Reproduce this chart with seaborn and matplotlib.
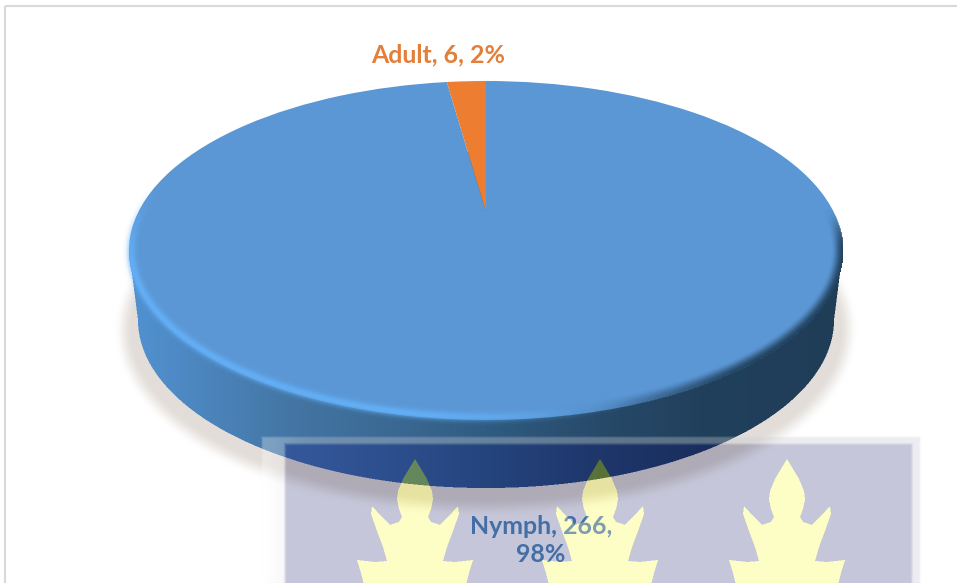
import numpy as np
import matplotlib
matplotlib.use("Agg")
import matplotlib.pyplot as plt
from matplotlib.path import Path
from matplotlib.patches import Rectangle, PathPatch
from matplotlib.transforms import Transform
import seaborn as sns

categories = ["Nymph", "Adult"]
counts = [266, 6]
percent_labels = ["98%", "2%"]
slice_colors = ["#5b97d5", "#ed7d31"]
text_colors = ["#436fa6", "#e27f3a"]

sns.set_theme(style="white")
plt.rcParams["font.family"] = ["Lato", "DejaVu Sans"]
W, H = 957, 583

# projected disc geometry (pixels)
CX, TOP_CY, TOP_RX, TOP_RY = 486.0, 250.0, 357.0, 169.5
BOT_CY, BOT_RX, BOT_RY = 320.0, 348.0, 168.0
P_A, P_B, P_C = -112.6, 212.0, 0.227
P_U = TOP_RX * np.sqrt(1 - P_C ** 2)


class DiscProjection(Transform):
    input_dims = output_dims = 2
    is_separable = False
    has_inverse = False

    def transform_non_affine(self, values):
        values = np.asarray(values, float)
        u, v = values[:, 0], values[:, 1]
        d = P_C * v + 1
        return np.column_stack([CX + P_U * u / d, (P_A * v + P_B) / d])


def smooth(x, a, b):
    t = np.clip((x - a) / (b - a), 0, 1)
    return t * t * (3 - 2 * t)


def ell(x, y, cx, cy, rx, ry):
    return np.sqrt(((x - cx) / rx) ** 2 + ((y - cy) / ry) ** 2)


def edge_dist(x, y, cx, cy, rx, ry):
    dx, dy = x - cx, y - cy
    f = np.maximum(ell(x, y, cx, cy, rx, ry), 1e-6)
    g = np.maximum(np.sqrt((dx / rx ** 2) ** 2 + (dy / ry ** 2) ** 2) / f, 1e-6)
    return (1 - f) / g


FLAME_HALF = [(0, 0), (6, 10), (12, 20), (17, 32), (18, 40), (16, 50), (13, 58), (16, 63),
              (25, 66), (33, 58), (43, 47), (44, 55), (38, 72), (32, 88), (28, 102),
              (40, 103), (58, 101), (54, 114), (50, 130)]
FLAME_X = [415, 600, 787]
FLAME_TOP = 459


def flame_path(cx):
    right = [(cx + a, FLAME_TOP + b) for a, b in FLAME_HALF]
    left = [(cx - a, FLAME_TOP + b) for a, b in FLAME_HALF[::-1]]
    return Path(right + left[:-1] + [right[0]], closed=True)


flames = [flame_path(c) for c in FLAME_X]

# ---- raster backdrop: shadow, side wall, watermark (supersampled) ----
SS = 2
gx, gy = np.meshgrid((np.arange(W * SS) + .5) / SS, (np.arange(H * SS) + .5) / SS)
img = np.ones(gx.shape + (3,)) * 255.0

sd = edge_dist(gx, gy, CX, 330, 356, 171)
sa = smooth(sd, -16, 3)
for i, c in enumerate((226, 221, 216)):
    img[..., i] = img[..., i] * (1 - sa) + c * sa

in_top = (ell(gx, gy, CX, TOP_CY, TOP_RX, TOP_RY) <= 1) & (gy >= TOP_CY)
in_bot = ell(gx, gy, CX, BOT_CY, BOT_RX, BOT_RY) <= 1
t = (gy - TOP_CY) / (BOT_CY - TOP_CY)
half = TOP_RX + (BOT_RX - TOP_RX) * t
in_mid = (t >= 0) & (t <= 1) & (np.abs(gx - CX) <= half)
wall = in_top | in_bot | in_mid
stops_x = [129, 200, 300, 400, 486, 600, 700, 843]
stops_rgb = np.array([[82, 146, 210], [76, 134, 190], [67, 116, 162], [58, 104, 146],
                      [47, 92, 130], [39, 74, 106], [33, 64, 92], [32, 61, 88]], float)
for i in range(3):
    img[..., i][wall] = np.interp(gx[wall], stops_x, stops_rgb[:, i])

# watermark
BX0, BX1, BY0 = 262.0, 920.0, 437.0
IX0, IX1, IY0 = 285.0, 912.0, 444.0
ring = smooth(np.minimum(np.minimum(gx - BX0, BX1 - gx), gy - BY0), -1.5, 1.5)
inner = np.minimum(np.minimum(smooth(gx, IX0 - 2, IX0 + 2), smooth(-gx, -IX1 - 2, -IX1 + 2)),
                   smooth(gy, IY0 - 2, IY0 + 2))
pts = np.column_stack([gx.ravel(), gy.ravel()])
fmask = np.zeros(gx.size, bool)
near = pts[:, 1] > FLAME_TOP - 2
for fl in flames:
    fmask[near] |= fl.contains_points(pts[near])
fmask = fmask.reshape(gx.shape)
band_col = np.array([235, 235, 240.])
band_mul = np.array([.93, .93, .95])
in_mul = np.array([197, 198, 217.]) / 255
wall_tint = np.array([0., -3., 16.])
fl_scale = np.array([.76, .77, .944])
fl_white = np.array([253, 253, 198.])
fade = smooth(gx, BX0, IX0 + 30)  # the band whitens toward the left
for i in range(3):
    bg = img[..., i]
    col = 255 + (band_col[i] - 255) * fade
    mul = 1 + (band_mul[i] - 1) * fade
    b = bg * mul * .7 + col * .3
    n = bg * in_mul[i] + wall * wall_tint[i]
    f = fl_white[i] - (255 - bg) * fl_scale[i]
    n = np.where(fmask, f, n)
    img[..., i] = (bg * (1 - ring) + b * ring) * (1 - inner) + n * inner
img = np.clip(img, 0, 255).reshape(H, SS, W, SS, 3).mean(axis=(1, 3))

# ---- bevel overlay for the top surface ----
px, py = np.meshgrid(np.arange(W) + .5, np.arange(H) + .5)
d = edge_dist(px, py, CX, TOP_CY, TOP_RX, TOP_RY)
phi = np.degrees(np.arctan2((py - TOP_CY) / TOP_RY, (px - CX) / TOP_RX)) % 360
light = smooth(phi, 60, 105) * (1 - smooth(phi, 172, 205))
dark = ((1 - smooth(phi, 40, 85)) * (phi < 120) + smooth(phi, 345, 360))
dark = np.clip(dark, 0, 1)
la = np.exp(-((d - 2.5) / 4.5) ** 2) * light * .85
da = (1 - smooth(d, 0, 12)) * dark * .95 * (d >= -.5)
col_l = np.array([100, 178, 250.]) / 255
col_d = np.array([33, 64, 92.]) / 255
mix = (da / np.maximum(la + da, 1e-6))[..., None]
ov = np.zeros((H, W, 4))
ov[..., :3] = col_d * mix + col_l * (1 - mix)
ov[..., 3] = np.maximum(la, da)

# ---- figure ----
fig = plt.figure(figsize=(W / 100, H / 100), dpi=100, facecolor="white")
ax = fig.add_axes([0, 0, 1, 1])
palette = sns.color_palette(slice_colors)
wedges, _ = ax.pie(counts, colors=palette, startangle=90, counterclock=False,
                   wedgeprops=dict(linewidth=0))
proj = DiscProjection()
ax.set_aspect("auto")
ax.set_axis_off()
for w in wedges:
    w.set_transform(proj + ax.transData)
    w.set_zorder(3)

ax.imshow(img.astype(np.uint8), extent=(0, W, H, 0), aspect="auto", zorder=1, interpolation="nearest")
ax.imshow(ov, extent=(0, W, H, 0), aspect="auto", zorder=4, interpolation="nearest")
ax.set_xlim(0, W)
ax.set_ylim(H, 0)
ax.add_patch(Rectangle((5, 6), W + 20, H - 5, fill=False, ec="#d9d9d9", lw=1.5, zorder=2))

FS = 17.9
lab0 = f"{categories[0]}, {counts[0]},\n{percent_labels[0]}"
lab1 = f"{categories[1]}, {counts[1]}, {percent_labels[1]}"
kw = dict(ha="center", va="center", fontsize=FS, fontweight="bold", zorder=6, linespacing=1.3)
ax.text(438, 54.5, lab1, color=text_colors[1], **kw)
ax.text(541, 540.5, lab0, color=text_colors[0], **kw)

# watermark flame showing through the label (below the wall only)
veil = PathPatch(flames[1], fc="#fdfdc6", ec="none", alpha=.32, zorder=7)
ax.add_patch(veil)
veil_clip = Rectangle((500, 505), 200, 78, transform=ax.transData)
veil.set_clip_path(veil_clip)

fig.savefig("out.png", dpi=100)
